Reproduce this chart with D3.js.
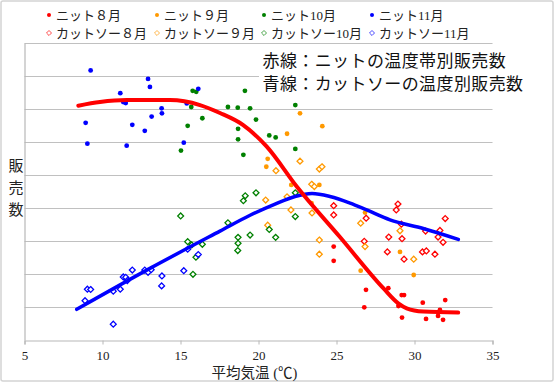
<!DOCTYPE html>
<html><head><meta charset="utf-8">
<script src="https://cdn.jsdelivr.net/npm/d3@7"></script>
<style>
html,body{margin:0;padding:0;background:#fff;}
svg{display:block;}
</style>
</head><body>
<svg id="c" width="554" height="382"></svg>
<script>
// ---- data ----
const xTicks = [5, 10, 15, 20, 25, 30, 35];
const yGrid = [0, 1, 2, 3, 4, 5, 6, 7, 8, 9];
const legendLabels = ["ニット８月","ニット９月","ニット10月","ニット11月","カットソー８月","カットソー９月","カットソー10月","カットソー11月"];
const seriesColors = ["#ff0000","#ff9900","#008000","#0000ff"];

const knitAug = [[24.82,2.83],[24.82,2.40],[26.89,1.52],[26.78,0.99],[28.32,1.57],[29.18,1.36],[29.33,1.36],[28.97,1.03],[29.20,0.68],[30.53,1.13],[30.74,0.64],[31.51,0.73],[31.63,0.91],[31.83,0.61],[31.97,1.21]];
const knitSep = [[22.66,6.87],[21.83,6.25],[24.09,6.48],[20.59,5.49],[20.50,5.25],[22.10,4.70],[23.90,4.70],[23.40,4.15],[26.83,3.86],[26.55,2.10],[29.07,2.67],[29.95,1.97]];
const knitOct = [[15.78,7.55],[16.01,7.52],[15.69,7.06],[16.40,6.72],[15.46,6.49],[15.03,5.74],[19.13,7.55],[18.04,7.06],[18.67,7.04],[19.46,7.02],[22.36,7.12],[19.84,6.68],[18.69,6.40],[20.69,6.20],[21.10,6.14],[18.69,6.08],[22.36,5.79],[19.03,5.61]];
const knitNov = [[9.24,8.17],[12.92,7.91],[13.04,7.67],[11.14,7.48],[11.33,7.21],[11.49,7.18],[16.14,7.61],[15.40,7.17],[13.79,7.02],[13.81,6.87],[13.15,6.77],[8.92,6.58],[11.91,6.52],[12.71,6.34],[9.03,5.95],[11.55,5.89],[15.21,5.98]];

const cutAug = [[24.82,4.07],[24.82,3.79],[26.90,3.69],[26.78,2.99],[28.94,4.12],[28.83,3.94],[29.16,3.51],[29.20,3.07],[28.35,3.12],[28.26,2.67],[29.33,2.45],[30.51,2.67],[30.76,2.70],[30.71,3.30],[31.31,2.60],[31.51,3.12],[31.63,3.32],[31.83,2.96],[31.97,3.68]];
const cutSep = [[21.12,5.13],[22.66,5.42],[23.90,5.18],[24.07,5.25],[23.41,4.72],[23.58,4.65],[20.46,4.24],[21.83,4.34],[22.08,3.94],[23.43,3.85],[20.59,3.48],[23.90,3.03],[23.90,2.60],[26.55,3.54],[26.83,2.83],[29.07,3.31],[29.95,2.45]];
const cutOct = [[15.01,3.76],[15.46,2.98],[15.72,2.88],[16.40,2.90],[15.99,2.51],[15.80,1.99],[18.04,3.55],[19.15,4.37],[19.03,4.22],[19.84,4.46],[18.69,3.11],[18.69,2.93],[18.67,2.71],[19.46,3.18],[20.69,3.35],[21.10,3.11],[22.36,4.46],[22.36,3.74]];
const cutNov = [[8.88,1.19],[9.03,1.54],[9.24,1.53],[10.69,0.48],[10.69,1.48],[11.14,1.54],[11.33,1.91],[11.49,1.90],[11.59,1.80],[11.91,2.12],[12.71,2.12],[12.92,2.05],[13.12,2.13],[13.81,1.94],[13.79,1.64],[15.21,2.10],[15.46,2.75],[16.14,2.59]];

const redCurve = [[8.45,7.10],[9.84,7.21],[11.55,7.27],[14.33,7.27],[16.25,7.12],[17.53,6.88],[19.0,6.52],[20.53,5.86],[22.45,4.65],[25.22,3.12],[28.0,1.57],[28.96,1.11],[29.5,0.96],[30.56,0.86],[32.8,0.83]];
const blueCurve = [[8.35,0.93],[13.04,2.17],[17.53,3.30],[19.46,3.78],[21.06,4.12],[22.34,4.35],[23.43,4.44],[24.58,4.35],[25.87,4.15],[26.94,3.94],[28.43,3.64],[30.56,3.38],[32.81,3.05]];

const noteLines = ["赤線：ニットの温度帯別販売数","青線：カットソーの温度別販売数"];
const xTitle = "平均気温 (℃)";
const yTitle = ["販","売","数"];

// ---- drawing ----
const svg = d3.select("#c");
const W = 554, H = 382;
const plot = {l:24.5, r:492.5, t:43, b:340};
const x = d3.scaleLinear().domain([5,35]).range([plot.l, plot.r]);
const y = d3.scaleLinear().domain([0,9]).range([plot.b, plot.t]);
const jpFont = "'Liberation Serif','Noto Sans CJK JP',serif";

svg.append("rect").attr("x",1).attr("y",1).attr("width",W-2).attr("height",H-2)
  .attr("fill","#fff").attr("stroke","#d4d4d4").attr("stroke-width",1.5).attr("rx",2);

// gridlines
svg.append("g").selectAll("line").data(yGrid.filter(d=>d>0)).join("line")
  .attr("x1",plot.l).attr("x2",plot.r)
  .attr("y1",d=>Math.round(y(d))+0.5).attr("y2",d=>Math.round(y(d))+0.5)
  .attr("stroke","#c0c0c0").attr("stroke-width",1.2);

// axes
const xAxis = d3.axisBottom(x).tickValues(xTicks).tickSize(4).tickPadding(6).tickFormat(d3.format("d"));
const gx = svg.append("g").attr("transform",`translate(0,${plot.b+0.5})`).call(xAxis);
gx.select(".domain").attr("stroke","#b8b8b8").attr("stroke-width",1.2);
gx.selectAll(".tick line").attr("stroke","#b8b8b8");
gx.selectAll(".tick text").attr("font-family","'Liberation Serif',serif").attr("font-size",13).attr("fill","#222");
const yAxis = d3.axisLeft(y).tickValues([]).tickSize(0);
const gy = svg.append("g").attr("transform",`translate(${plot.l},0)`).call(yAxis);
gy.select(".domain").attr("stroke","#b8b8b8").attr("stroke-width",1.2);

// markers
const dotR = 2.4;
function drawDots(data, color){
  svg.append("g").selectAll("circle").data(data).join("circle")
    .attr("cx",d=>x(d[0])).attr("cy",d=>y(d[1])).attr("r",dotR).attr("fill",color);
}
const diamond = d3.symbol().type(d3.symbolDiamond2).size(22);
function drawDiamonds(data, color){
  svg.append("g").selectAll("path").data(data).join("path")
    .attr("transform",d=>`translate(${x(d[0])},${y(d[1])})`)
    .attr("d",diamond).attr("fill","#fff").attr("stroke",color).attr("stroke-width",1.3);
}
drawDots(knitAug, seriesColors[0]);
drawDots(knitSep, seriesColors[1]);
drawDots(knitOct, seriesColors[2]);
drawDots(knitNov, seriesColors[3]);
drawDiamonds(cutAug, seriesColors[0]);
drawDiamonds(cutSep, seriesColors[1]);
drawDiamonds(cutOct, seriesColors[2]);
drawDiamonds(cutNov, seriesColors[3]);

// curves
const line = d3.line().x(d=>x(d[0])).y(d=>y(d[1])).curve(d3.curveMonotoneX);
svg.append("path").attr("d",line(blueCurve)).attr("fill","none").attr("stroke","#0000ff").attr("stroke-width",3.5).attr("stroke-linecap","round");
svg.append("path").attr("d",line(redCurve)).attr("fill","none").attr("stroke","#ff0000").attr("stroke-width",4).attr("stroke-linecap","round");

// note box
svg.append("rect").attr("x",259).attr("y",49).attr("width",272).attr("height",49).attr("fill","#fff");
svg.append("g").selectAll("text").data(noteLines).join("text")
  .attr("x",262.5).attr("y",(d,i)=>61.5+i*22.7).attr("dominant-baseline","central")
  .attr("font-family",jpFont).attr("font-size",17).attr("letter-spacing",0.4).attr("fill","#111")
  .text(d=>d);

// legend
const legX = [49,157,264,372];
const legY = [15,33];
const leg = svg.append("g");
legendLabels.forEach((lab,i)=>{
  const col = i%4, row = Math.floor(i/4);
  const cx = legX[col], cy = legY[row];
  if(row===0){
    leg.append("circle").attr("cx",cx).attr("cy",cy).attr("r",2).attr("fill",seriesColors[col]);
  } else {
    leg.append("path").attr("transform",`translate(${cx},${cy})`).attr("d",d3.symbol().type(d3.symbolDiamond2).size(16))
      .attr("fill","#fff").attr("stroke",seriesColors[col]).attr("stroke-width",1).attr("opacity",0.7);
  }
  leg.append("text").attr("x",cx+7).attr("y",cy).attr("dominant-baseline","central")
    .attr("font-family",jpFont).attr("font-size",13).attr("fill","#222").text(lab);
});

// titles
svg.append("text").attr("x",254.5).attr("y",372.5).attr("text-anchor","middle").attr("dominant-baseline","central")
  .attr("font-family",jpFont).attr("font-size",14.5).attr("fill","#222").text(xTitle);
svg.append("g").selectAll("text").data(yTitle).join("text")
  .attr("x",16).attr("y",(d,i)=>166+i*22).attr("text-anchor","middle").attr("dominant-baseline","central")
  .attr("font-family",jpFont).attr("font-size",15).attr("fill","#222").text(d=>d);
</script>
</body></html>
